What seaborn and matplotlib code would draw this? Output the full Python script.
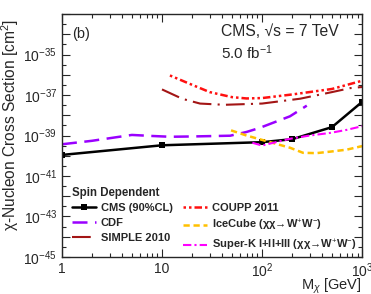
import numpy as np
import pandas as pd
import seaborn as sns
import matplotlib.pyplot as plt
from matplotlib.lines import Line2D
from matplotlib.ticker import FixedLocator, FuncFormatter

# limits (GeV, cm^2)
cms_mass = [1, 10, 100, 200, 500, 1000]
cms_xsec = [1.1e-40, 3.3e-40, 4.7e-40, 6.6e-40, 2.6e-39, 4.6e-38]

cdf_mass = [1, 2, 5, 8, 12, 20, 48, 70, 95, 140, 190, 280]
cdf_xsec = [3.7e-40, 5.5e-40, 1.07e-39, 9.5e-40, 8.7e-40, 9.0e-40, 9.8e-40, 1.5e-39, 2.4e-39, 5.0e-39, 8.9e-39, 3.0e-38]

coupp_mass = [12, 20, 30, 50, 70, 100, 200, 500, 1000]
coupp_xsec = [9.3e-37, 3.2e-37, 1.4e-37, 7.9e-38, 6.8e-38, 7.1e-38, 1.07e-37, 2.0e-37, 5.1e-37]

simple_mass = [10, 16, 24, 42, 100, 240, 500, 760, 1000]
simple_xsec = [1.9e-37, 6.5e-38, 3.8e-38, 3.3e-38, 3.8e-38, 6.6e-38, 1.4e-37, 2.2e-37, 2.5e-37]

icecube_mass = [49, 70, 112, 190, 257, 350, 480, 700, 1000]
icecube_xsec = [1.8e-39, 1.0e-39, 5.2e-40, 2.5e-40, 1.4e-40, 1.35e-40, 1.6e-40, 2.0e-40, 3.0e-40]

superk_mass = [80, 100, 140, 190, 300, 480, 700, 1000]
superk_xsec = [4.4e-40, 3.2e-40, 4.8e-40, 6.9e-40, 1.0e-39, 1.35e-39, 1.9e-39, 2.9e-39]

series = [
    ('CMS (90%CL)', cms_mass, cms_xsec, 'black', '-', 1.8),
    ('CDF', cdf_mass, cdf_xsec, '#9a00ff', (0, (6, 3)), 1.8),
    ('SIMPLE 2010', simple_mass, simple_xsec, '#a31515', (0, (9, 3, 1, 3)), 1.5),
    ('COUPP 2011', coupp_mass, coupp_xsec, '#ff1010', (0, (1, 1.2, 1, 1.2, 3, 1.2)), 1.8),
    ('IceCube (χχ→W$^{+}$W$^{-}$)', icecube_mass, icecube_xsec, '#ffc000', (0, (2.5, 1.5)), 1.8),
    ('Super-K I+II+III (χχ→W$^{+}$W$^{-}$)', superk_mass, superk_xsec, '#ff00ff', (0, (4, 1.5, 1, 1.5)), 1.5),
]

sns.set_style('ticks')
plt.rcParams['font.family'] = ['Liberation Sans', 'DejaVu Sans']
plt.rcParams['mathtext.fontset'] = 'custom'
plt.rcParams['mathtext.rm'] = 'Liberation Sans'
plt.rcParams['mathtext.it'] = 'Liberation Sans:italic'
plt.rcParams['mathtext.bf'] = 'Liberation Sans:bold'

fig = plt.figure(figsize=(3.71, 2.94), dpi=100)
ax = fig.add_axes([0.167, 0.126, 0.809, 0.826])

handles = []
for name, m, xs, col, ls, lw in series:
    df = pd.DataFrame({'mass': m, 'xsec': xs})
    sns.lineplot(data=df, x='mass', y='xsec', ax=ax, color=col, linestyle=ls,
                 linewidth=lw, marker='s' if name.startswith('CMS') else None,
                 markersize=4.5, markeredgewidth=0, legend=False)
    handles.append(Line2D([], [], color=col, linestyle=ls, linewidth=lw,
                          marker='s' if name.startswith('CMS') else None,
                          markersize=4, markeredgewidth=0, label=name))

ax.set_xscale('log')
ax.set_yscale('log')
ax.set_xlim(1, 1000)
ax.set_ylim(1e-45, 1e-33)


def ylab(v, p):
    e = int(round(np.log10(v)))
    return '$10^{%d}$' % e if e % 2 and e < -33 else ''


ax.yaxis.set_major_locator(FixedLocator([10.0 ** e for e in range(-45, -32)]))
ax.yaxis.set_minor_locator(FixedLocator([10.0 ** (e + 0.5) for e in range(-45, -33)]))
ax.yaxis.set_major_formatter(FuncFormatter(ylab))
ax.xaxis.set_major_locator(FixedLocator([1, 10, 100, 1000]))
ax.xaxis.set_major_formatter(FuncFormatter(
    lambda v, p: {1: '1', 10: '10', 100: '$10^{2}$', 1000: '$10^{3}$'}.get(int(round(v)), '')))

ax.tick_params(which='both', direction='in', top=True, right=True, labelsize=10, width=0.8)
ax.tick_params(which='major', length=6, pad=3.5)
ax.tick_params(which='minor', length=3)
for s in ax.spines.values():
    s.set_linewidth(1.0)

ax.set_xlabel('M$_{\\chi}$ [GeV]', fontsize=10.5, ha='right')
ax.xaxis.set_label_coords(1.0, -0.082)
ax.set_ylabel('χ-Nucleon Cross Section [cm$^{2}$]', fontsize=11.2)
ax.yaxis.set_label_coords(-0.135, 0.545)

ax.text(0.035, 0.9, '(b)', transform=ax.transAxes, fontsize=10.5)
ax.text(0.53, 0.91, 'CMS, √s = 7 TeV', transform=ax.transAxes, fontsize=11.3)
ax.text(0.53, 0.815, '5.0 fb$^{-1}$', transform=ax.transAxes, fontsize=11)

leg = ax.legend(handles=handles, ncol=2, loc='lower left',
                bbox_to_anchor=(0.0, -0.025), frameon=False, title='Spin Dependent',
                prop={'size': 8, 'weight': 'bold'}, handlelength=2.2,
                columnspacing=0.9, labelspacing=0.42, handletextpad=0.4,
                title_fontproperties={'size': 8.3, 'weight': 'bold'}, alignment='left')

fig.savefig('out.png', dpi=100)
